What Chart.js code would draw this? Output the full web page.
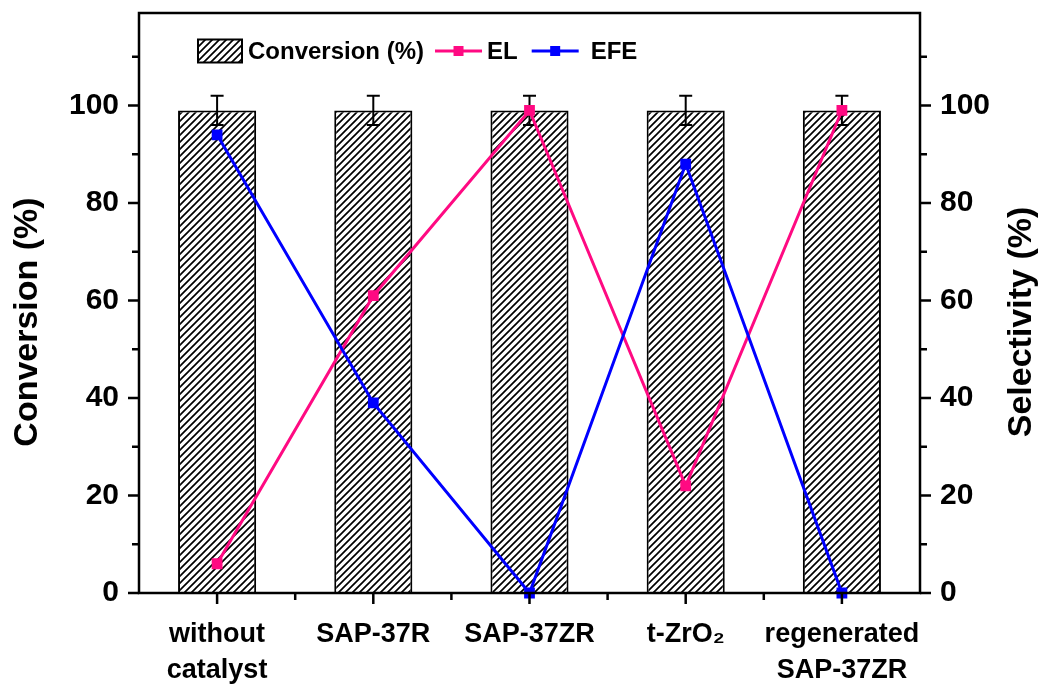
<!DOCTYPE html>
<html>
<head>
<meta charset="utf-8">
<script src="https://cdn.jsdelivr.net/npm/chart.js@4.4.1/dist/chart.umd.min.js"></script>
<style>
  html, body { margin: 0; padding: 0; background: #fff; }
  #wrap { width: 1042px; height: 686px; }
</style>
</head>
<body>
<div id="wrap"><canvas id="chart" width="1042" height="686"></canvas></div>
<script>
// Catalyst screening: conversion (bars, left axis) and product selectivity (lines, right axis)
const categories = [['without', 'catalyst'], 'SAP-37R', 'SAP-37ZR', 't-ZrO\u2082', ['regenerated', 'SAP-37ZR']];
const conversion = [99, 99, 99, 99, 99];
const conversionErr = [3, 3, 3, 3, 3];
const selectivityEL = [6, 61, 99, 22, 99];
const selectivityEFE = [94, 39, 0, 88, 0];
const yTicks = [0, 20, 40, 60, 80, 100];
const yMinorTicks = [10, 30, 50, 70, 90, 110];

const PINK = '#FF0A82';
const BLUE = '#0000FF';
const SANS = "'Liberation Sans', Arial, sans-serif";

function hatchPattern() {
  const s = 7;
  const c = document.createElement('canvas');
  c.width = s; c.height = s;
  const g = c.getContext('2d');
  g.fillStyle = '#fff';
  g.fillRect(0, 0, s, s);
  g.strokeStyle = '#000';
  g.lineWidth = 1.7;
  g.beginPath();
  g.moveTo(-1, s + 1); g.lineTo(s + 1, -1);
  g.moveTo(-1, 1); g.lineTo(1, -1);
  g.moveTo(s - 1, s + 1); g.lineTo(s + 1, s - 1);
  g.stroke();
  return g.createPattern(c, 'repeat');
}
const HATCH = hatchPattern();

// error bars drawn right after the bars, so the lines stay on top
const errorBars = {
  id: 'errorBars',
  afterDatasetDraw(chart, args) {
    if (args.index !== 0) return;
    const { ctx } = chart;
    const yScale = chart.scales.y;
    const meta = chart.getDatasetMeta(0);
    ctx.save();
    ctx.strokeStyle = '#000';
    ctx.lineWidth = 2;
    meta.data.forEach((bar, i) => {
      const v = conversion[i], e = conversionErr[i];
      const yTop = yScale.getPixelForValue(v + e);
      const yBot = yScale.getPixelForValue(v - e);
      const x = bar.x, cap = 6.5;
      ctx.beginPath();
      ctx.moveTo(x, yTop); ctx.lineTo(x, yBot);
      ctx.moveTo(x - cap, yTop); ctx.lineTo(x + cap, yTop);
      ctx.moveTo(x - cap, yBot); ctx.lineTo(x + cap, yBot);
      ctx.stroke();
    });
    ctx.restore();
  }
};

// box frame, tick marks, axis titles and legend
const decor = {
  id: 'decor',
  afterDraw(chart) {
    const { ctx, chartArea: a, scales } = chart;
    ctx.save();
    ctx.strokeStyle = '#000';
    ctx.lineWidth = 2.5;
    ctx.lineCap = 'square';
    ctx.strokeRect(a.left, a.top, a.right - a.left, a.bottom - a.top);

    const MAJ = 11, MIN = 7;
    ctx.lineCap = 'butt';
    ctx.beginPath();
    // bottom axis: major at categories, minor between them
    const xs = scales.x;
    categories.forEach((c, i) => {
      const px = xs.getPixelForValue(i);
      ctx.moveTo(px, a.bottom); ctx.lineTo(px, a.bottom + MAJ);
      if (i < categories.length - 1) {
        const mx = (px + xs.getPixelForValue(i + 1)) / 2;
        ctx.moveTo(mx, a.bottom); ctx.lineTo(mx, a.bottom + MIN);
      }
    });
    // left and right axes
    [['y', a.left, -1], ['y2', a.right, 1]].forEach(([id, x0, dir]) => {
      const sc = scales[id];
      yTicks.forEach(v => {
        const py = sc.getPixelForValue(v);
        ctx.moveTo(x0, py); ctx.lineTo(x0 + dir * MAJ, py);
      });
      yMinorTicks.forEach(v => {
        const py = sc.getPixelForValue(v);
        ctx.moveTo(x0, py); ctx.lineTo(x0 + dir * MIN, py);
      });
    });
    ctx.stroke();

    // axis titles, both reading bottom-to-top
    ctx.fillStyle = '#000';
    ctx.font = 'bold 34px ' + SANS;
    ctx.textAlign = 'center';
    ctx.textBaseline = 'middle';
    const midY = (a.top + a.bottom) / 2 + 19;
    [['Conversion (%)', 28], ['Selectivity (%)', 1022]].forEach(([t, x]) => {
      ctx.save();
      ctx.translate(x, midY);
      ctx.rotate(-Math.PI / 2);
      ctx.fillText(t, 0, 0);
      ctx.restore();
    });

    // legend
    const ly = a.top + 38;
    let lx = a.left + 59;
    ctx.font = 'bold 24px ' + SANS;
    ctx.textAlign = 'left';
    ctx.fillStyle = HATCH;
    ctx.fillRect(lx, ly - 11.5, 44, 23);
    ctx.lineWidth = 2;
    ctx.strokeRect(lx, ly - 11.5, 44, 23);
    ctx.fillStyle = '#000';
    ctx.fillText(chart.data.datasets[0].label, lx + 50, ly + 1);
    lx += 50 + ctx.measureText(chart.data.datasets[0].label).width + 11;
    [1, 2].forEach(k => {
      const ds = chart.data.datasets[k];
      ctx.strokeStyle = ds.borderColor;
      ctx.lineWidth = 3;
      ctx.beginPath();
      ctx.moveTo(lx, ly); ctx.lineTo(lx + 47, ly);
      ctx.stroke();
      ctx.fillStyle = ds.borderColor;
      ctx.fillRect(lx + 23.5 - 5, ly - 5, 10, 10);
      ctx.fillStyle = '#000';
      const tx = lx + 52 + (k === 2 ? 7 : 0);
      ctx.fillText(ds.label, tx, ly + 1);
      lx = tx + ctx.measureText(ds.label).width + 14;
    });
    ctx.restore();
  }
};

const yAxisBase = (pos, width) => ({
  type: 'linear',
  position: pos,
  min: 0,
  max: 119,
  afterBuildTicks: s => { s.ticks = yTicks.map(v => ({ value: v })); },
  afterFit: s => { s.width = width; s.paddingTop = 0; s.paddingBottom = 0; },
  grid: { display: false, drawTicks: true, tickLength: 11 },
  border: { display: false },
  ticks: { color: '#000', padding: 9, font: { family: SANS, size: 30, weight: 'bold' } },
  title: { display: false }
});

new Chart(document.getElementById('chart'), {
  data: {
    labels: categories,
    datasets: [
      {
        type: 'bar',
        label: 'Conversion (%)',
        data: conversion,
        yAxisID: 'y',
        backgroundColor: HATCH,
        borderColor: '#000',
        borderWidth: 2,
        barPercentage: 0.5,
        categoryPercentage: 1,
        order: 3
      },
      {
        type: 'line',
        label: 'EL',
        data: selectivityEL,
        yAxisID: 'y2',
        borderColor: PINK,
        backgroundColor: PINK,
        borderWidth: 3,
        pointStyle: 'rect',
        pointRadius: 5.5,
        pointHoverRadius: 5.5,
        tension: 0,
        clip: false,
        order: 2
      },
      {
        type: 'line',
        label: 'EFE',
        data: selectivityEFE,
        yAxisID: 'y2',
        borderColor: BLUE,
        backgroundColor: BLUE,
        borderWidth: 3,
        pointStyle: 'rect',
        pointRadius: 5.5,
        pointHoverRadius: 5.5,
        tension: 0,
        clip: false,
        order: 1
      }
    ]
  },
  options: {
    responsive: false,
    devicePixelRatio: 1,
    animation: false,
    layout: { padding: { top: 13, left: 0, right: 0, bottom: 0 } },
    plugins: { legend: { display: false }, tooltip: { enabled: false } },
    scales: {
      x: {
        type: 'category',
        offset: true,
        afterFit: s => { s.height = 93; s.paddingLeft = 0; s.paddingRight = 0; },
        grid: { display: false, drawTicks: true, tickLength: 11 },
        border: { display: false },
        ticks: {
          color: '#000',
          padding: 12,
          maxRotation: 0,
          autoSkip: false,
          font: { family: SANS, size: 27, weight: 'bold', lineHeight: 1.35 }
        }
      },
      y: yAxisBase('left', 139),
      y2: yAxisBase('right', 122)
    }
  },
  plugins: [errorBars, decor]
});
</script>
</body>
</html>
